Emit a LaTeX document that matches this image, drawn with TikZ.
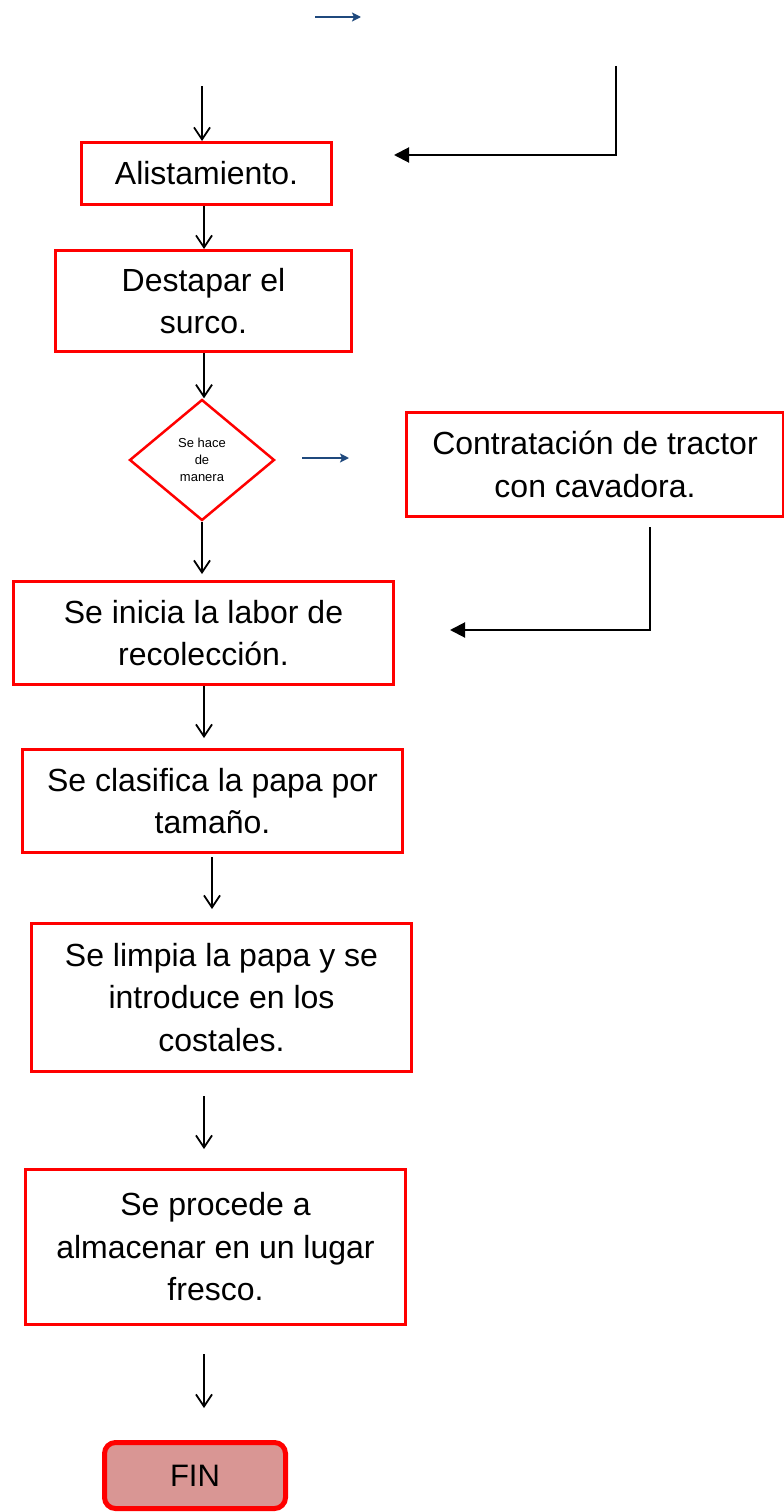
\documentclass[tikz,border=0pt]{standalone}
\usepackage{fontspec}
\setmainfont{Liberation Sans}
\usetikzlibrary{arrows.meta,shapes.geometric}
\definecolor{boxred}{RGB}{255,0,0}
\definecolor{finfill}{RGB}{217,150,148}
\definecolor{arrblue}{RGB}{31,73,125}
\tikzset{
  box/.style={draw=boxred, line width=3pt, rectangle, inner sep=0pt, align=center,
    font=\fontsize{32}{42.5}\selectfont},
  decision/.style={draw=boxred, line width=2.5pt, diamond, inner sep=0pt, align=center,
    font=\fontsize{13}{17}\selectfont},
  finbox/.style={draw=boxred, fill=finfill, line width=5pt, rounded corners=11pt, inner sep=0pt,
    font=\fontsize{31}{36}\selectfont},
  flow/.style={line width=1.8pt, -{Straight Barb[length=12pt,width=16pt,line width=1.8pt]}},
  back/.style={line width=2pt, -{Triangle[length=15pt,width=15pt]}},
  blue/.style={draw=arrblue, line width=2pt, -{Stealth[length=9pt,width=9pt,inset=2pt]}}
}
\begin{document}
\begin{tikzpicture}[x=1pt,y=-1pt]
\useasboundingbox (0,0) rectangle (784,1512);
% nodes
\node[box, minimum width=250pt, minimum height=62pt] (A) at (206.5,173.5) {Alistamiento.};
\node[box, minimum width=296pt, minimum height=101pt] (B) at (203.5,301) {Destapar el\\surco.};
\node[decision, minimum width=145pt, minimum height=121pt] (D) at (202,460) {Se hace\\de\\manera};
\node[box, minimum width=377pt, minimum height=104pt] (C) at (595,464.5) {Contratación de tractor\\con cavadora.};
\node[box, minimum width=380pt, minimum height=103pt] (E) at (203.5,633) {Se inicia la labor de\\recolección.};
\node[box, minimum width=380pt, minimum height=103pt] (F) at (212.5,801) {Se clasifica la papa por\\tamaño.};
\node[box, minimum width=380pt, minimum height=148pt] (G) at (221.5,997.5) {Se limpia la papa y se\\introduce en los\\costales.};
\node[box, minimum width=380pt, minimum height=155pt] (H) at (215.5,1247) {Se procede a\\almacenar en un lugar\\fresco.};
\node[finbox, minimum width=181pt, minimum height=66pt] (FIN) at (195,1475.5) {FIN};
% free coordinates
\coordinate (t1) at (315,17);
\coordinate (t2) at (361,17);
\coordinate (s0) at (202,86);
\coordinate (r1) at (616,66);
\coordinate (r2) at (616,155);
\coordinate (r3) at (394,155);
\coordinate (d1) at (302,458);
\coordinate (d2) at (349,458);
\coordinate (e0) at (202,574);
\coordinate (q1) at (650,527);
\coordinate (q2) at (650,630);
\coordinate (q3) at (450,630);
\coordinate (f0) at (204,738);
\coordinate (g1) at (212,857);
\coordinate (g0) at (212,909);
\coordinate (h1) at (204,1096);
\coordinate (h0) at (204,1149);
\coordinate (i1) at (204,1354);
\coordinate (i0) at (204,1408);
% connectors
\draw[blue] (t1) -- (t2);
\draw[flow] (s0) -- (s0 |- A.north);
\draw[back] (r1) -- (r2) -- (r3);
\draw[flow] (A.south -| 204,0) -- (B.north -| 204,0);
\draw[flow] (B.south -| 204,0) -- (D.north -| 204,0);
\draw[blue] (d1) -- (d2);
\draw[flow] (D.south) -- (e0);
\draw[back] (q1) -- (q2) -- (q3);
\draw[flow] (E.south -| f0) -- (f0);
\draw[flow] (g1) -- (g0);
\draw[flow] (h1) -- (h0);
\draw[flow] (i1) -- (i0);
\end{tikzpicture}
\end{document}
